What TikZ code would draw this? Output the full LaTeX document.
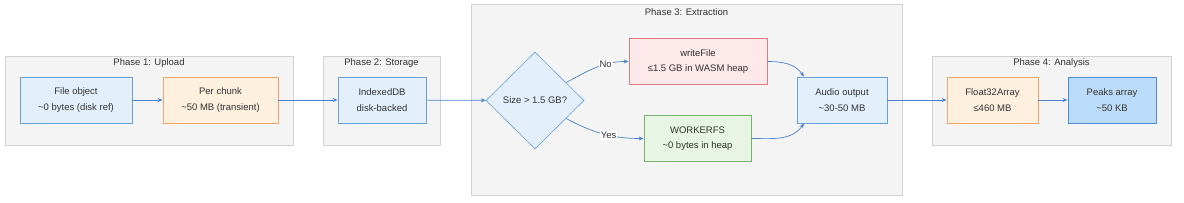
\documentclass[tikz,border=0pt]{standalone}
\usepackage{fontspec}
\setmainfont{Liberation Sans}
\usepackage{tikz}
\usetikzlibrary{shapes.geometric,arrows.meta}
\definecolor{clusterfill}{HTML}{F4F4F4}
\definecolor{clusterline}{HTML}{D2D2D2}
\definecolor{bluefill}{HTML}{E3F0FC}
\definecolor{blueline}{HTML}{6A9FD8}
\definecolor{orangefill}{HTML}{FEF0DE}
\definecolor{orangeline}{HTML}{F1A46C}
\definecolor{redfill}{HTML}{FDE8EA}
\definecolor{redline}{HTML}{E07C80}
\definecolor{greenfill}{HTML}{E8F5E4}
\definecolor{greenline}{HTML}{78B070}
\definecolor{peaksfill}{HTML}{BBDCF8}
\definecolor{peaksline}{HTML}{4A8FD8}
\definecolor{flowline}{HTML}{4A84D0}
\definecolor{textgray}{HTML}{333333}

\begin{document}
\begin{tikzpicture}[x=1pt,y=1pt,
  every node/.style={font=\fontsize{9.5}{15.5}\selectfont, text=textgray},
  phase/.style={draw=clusterline, fill=clusterfill, line width=0.8pt, minimum width=#1},
  memstep/.style={draw=#1line, fill=#1fill, line width=0.8pt, align=center, minimum height=46pt},
  flow/.style={draw=flowline, line width=0.7pt, -{Stealth[length=5pt,width=4pt]}},
  choice/.style={fill=white, inner sep=1pt}]
\useasboundingbox (0,0) rectangle (1184,-203);
% Clusters
\node[phase=288pt, minimum height=89pt] (upload) at (149,-100.5) {};
\node at (149,-63) {Phase 1: Upload};
\node[phase=117pt, minimum height=89pt] (storage) at (381.5,-100.5) {};
\node at (381.5,-63) {Phase 2: Storage};
\node[phase=431pt, minimum height=191pt] (extraction) at (686.5,-99.5) {};
\node at (686.5,-12) {Phase 3: Extraction};
\node[phase=239pt, minimum height=89pt] (analysis) at (1051.5,-100.5) {};
\node at (1051.5,-63) {Phase 4: Analysis};
% Upload
\node[memstep=blue, minimum width=112pt] (file) at (76,-100) {File object\\\textasciitilde0 bytes (disk ref)};
\node[memstep=orange, minimum width=115pt] (chunk) at (220.5,-100) {Per chunk\\\textasciitilde50 MB (transient)};
% Storage
\node[memstep=blue, minimum width=88pt] (idb) at (382,-100) {IndexedDB\\disk-backed};
% Extraction
\node[draw=blueline, fill=bluefill, line width=0.6pt, diamond, minimum width=98pt, minimum height=97pt, inner sep=0pt] (size) at (535,-100.5) {Size > 1.5 GB?};
\node[memstep=red, minimum width=138pt] (wfile) at (698,-61.5) {writeFile\\≤1.5 GB in WASM heap};
\node[memstep=green, minimum width=107pt] (wfs) at (697.5,-138.5) {WORKERFS\\\textasciitilde0 bytes in heap};
\node[memstep=blue, minimum width=90pt] (audio) at (842,-100) {Audio output\\\textasciitilde30-50 MB};
% Analysis
\node[memstep=orange, minimum width=91pt] (f32) at (992.5,-100) {Float32Array\\≤460 MB};
\node[memstep=peaks, minimum width=88pt] (peaks) at (1112,-100) {Peaks array\\\textasciitilde50 KB};
% Flow
\draw[flow] (file) -- (chunk);
\draw[flow] (chunk) -- (idb);
\draw[flow] (idb) -- (size);
\draw[flow] (size.30) to[out=28,in=180] node[choice, pos=0.66] {No} (wfile.west);
\draw[flow] (size.-30) to[out=-28,in=180] node[choice, pos=0.57] {Yes} (wfs.west);
\draw[flow] (wfile.east) to[out=0,in=125] (audio.north -| 804,0);
\draw[flow] (wfs.east) to[out=0,in=-125] (audio.south -| 804,0);
\draw[flow] (audio) -- (f32);
\draw[flow] (f32) -- (peaks);
\end{tikzpicture}
\end{document}
